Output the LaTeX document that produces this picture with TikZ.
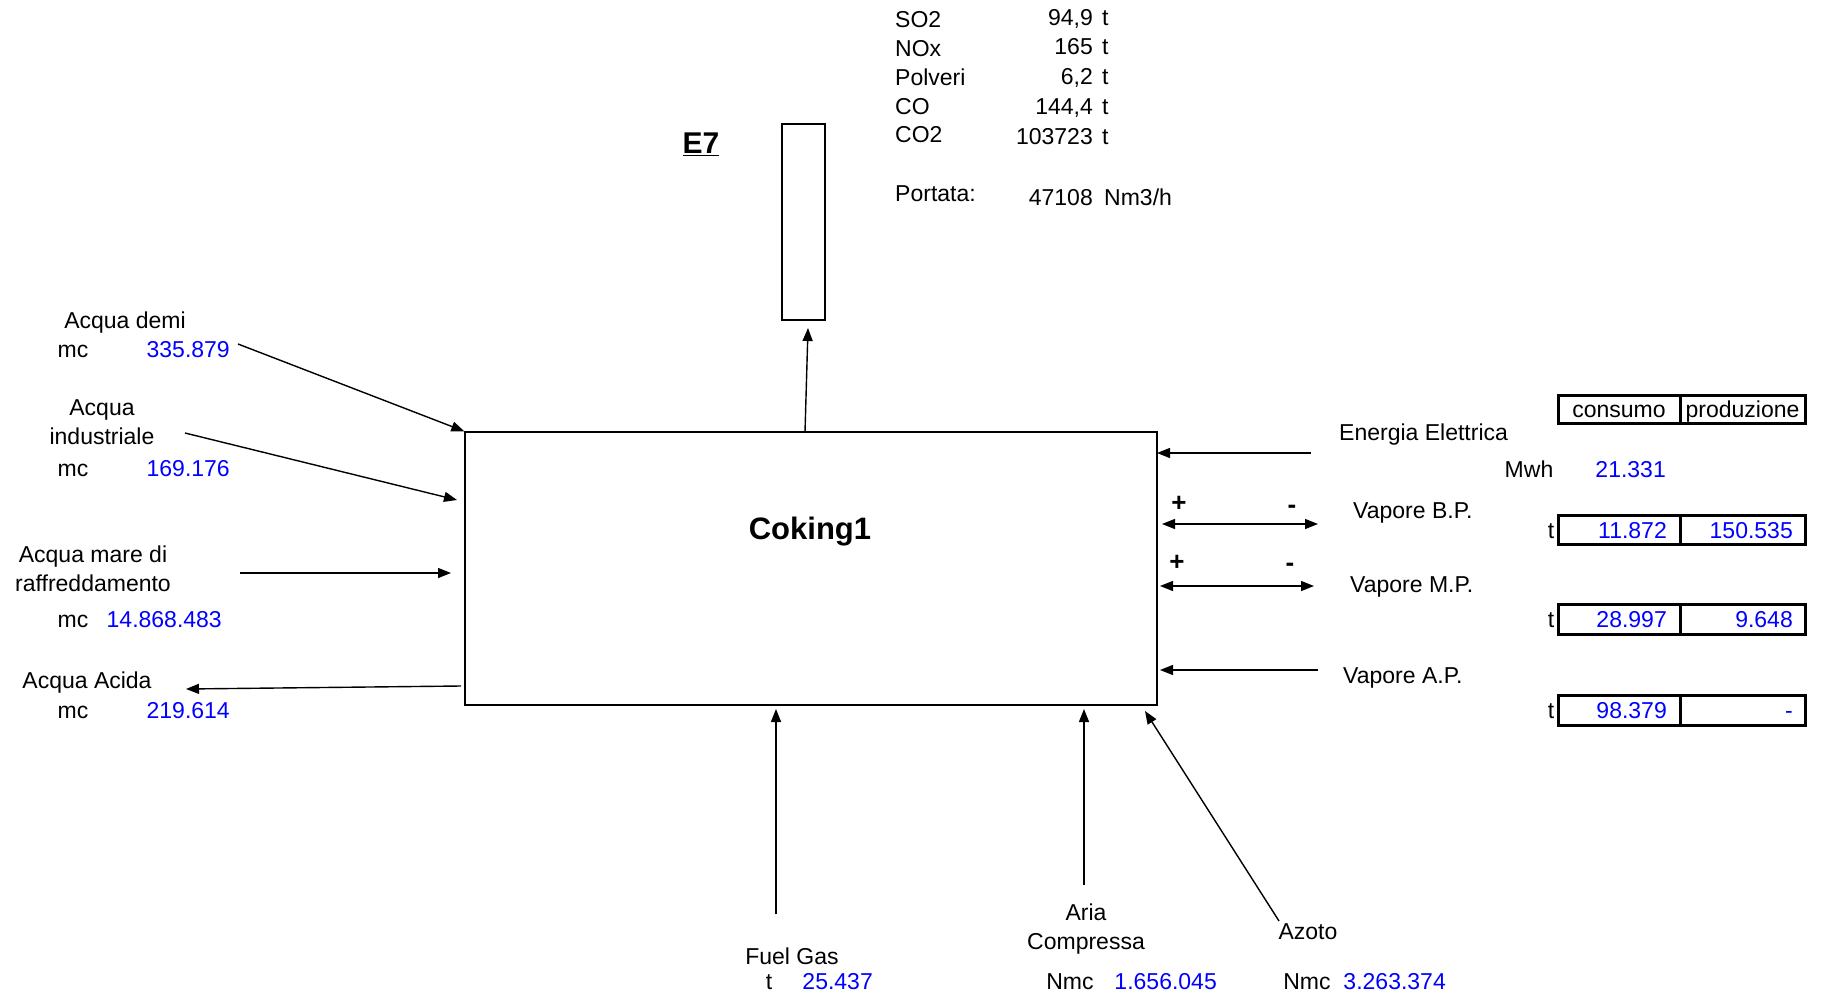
\documentclass[tikz,border=0pt]{standalone}
\usepackage{fontspec}
\setmainfont{Liberation Sans}
\usetikzlibrary{arrows.meta}
\definecolor{valblue}{RGB}{0,0,255}
\begin{document}
\begin{tikzpicture}[x=1pt,y=-1pt,
  txt/.style={font=\fontsize{23}{27}\selectfont, inner sep=0pt, anchor=base},
  txtw/.style={txt, anchor=base west},
  val/.style={txt, anchor=base east, text=valblue},
  sign/.style={txt, font=\fontsize{26}{30}\selectfont\bfseries},
  arr/.style={line width=1.4pt, -{Triangle[length=13pt,width=10pt]}},
  darr/.style={line width=1.4pt, {Triangle[length=13pt,width=10pt]}-{Triangle[length=13pt,width=10pt]}},
  boxnode/.style={draw, line width=1.4pt, inner sep=0pt},
  cell/.style={draw, line width=3pt, inner sep=0pt}]
\useasboundingbox (0,0) rectangle (1822,995);
% main unit
\node[boxnode, minimum width=692pt, minimum height=273pt] (coking) at (811,568.5) {};
\node[font=\fontsize{31}{36}\selectfont\bfseries, inner sep=0pt] (cokingtxt) at (810,532) {Coking1};
% stack
\node[boxnode, minimum width=43pt, minimum height=196pt] (stack) at (803.5,222) {};
\node[font=\fontsize{30}{34}\selectfont\bfseries, inner sep=0pt, anchor=base] (e7) at (701,154) {\underline{E7}};
\coordinate (stackout) at (805,432);
\coordinate (stackin) at (808,328);
\draw[arr] (stackout) -- (stackin);
% emissions
\node[txtw] (so2) at (895,28) {SO2};
\node[val, text=black] (so2v) at (1093,26) {94,9};
\node[txtw] (so2t) at (1102,26) {t};
\node[txtw] (nox) at (895,57) {NOx};
\node[val, text=black] (noxv) at (1093,55) {165};
\node[txtw] (noxt) at (1102,55) {t};
\node[txtw] (polv) at (895,86) {Polveri};
\node[val, text=black] (polvv) at (1093,85) {6,2};
\node[txtw] (polvt) at (1102,85) {t};
\node[txtw] (co) at (895,115) {CO};
\node[val, text=black] (cov) at (1093,115) {144,4};
\node[txtw] (cot) at (1102,115) {t};
\node[txtw] (co2) at (895,143) {CO2};
\node[val, text=black] (co2v) at (1093,145) {103723};
\node[txtw] (co2t) at (1102,145) {t};
\node[txtw] (port) at (895,201) {Portata:};
\node[val, text=black] (portv) at (1093,206) {47108};
\node[txtw] (portu) at (1104,206) {Nm3/h};
% left side
\node[txt] (demi) at (125,328) {Acqua demi};
\node[txt] (demimc) at (73,357) {mc};
\node[val] (demiv) at (230,357) {335.879};
\coordinate (demiS) at (238,344);
\draw[arr] (demiS) -- (coking.north west);
\node[txt] (ind1) at (102,415) {Acqua};
\node[txt] (ind2) at (102,444) {industriale};
\node[txt] (indmc) at (73,476) {mc};
\node[val] (indv) at (230,476) {169.176};
\coordinate (indS) at (185,433);
\coordinate (indE) at (457,500);
\draw[arr] (indS) -- (indE);
\node[txt] (mare1) at (93,562) {Acqua mare di};
\node[txt] (mare2) at (93,591) {raffreddamento};
\node[txt] (maremc) at (73,627) {mc};
\node[val] (marev) at (222,627) {14.868.483};
\coordinate (mareS) at (240,573);
\coordinate (mareE) at (451,573);
\draw[arr] (mareS) -- (mareE);
\node[txt] (acida) at (87,688) {Acqua Acida};
\node[txt] (acidamc) at (73,718) {mc};
\node[val] (acidav) at (230,718) {219.614};
\coordinate (acidaS) at (461,686);
\coordinate (acidaE) at (186,689);
\draw[arr] (acidaS) -- (acidaE);
% bottom
\node[txt] (fuel) at (792,964) {Fuel Gas};
\node[txt] (fuelt) at (769,989) {t};
\node[val] (fuelv) at (873,989) {25.437};
\coordinate (fuelS) at (776,914);
\coordinate (fuelE) at (776,709);
\draw[arr] (fuelS) -- (fuelE);
\node[txt] (aria1) at (1086,920) {Aria};
\node[txt] (aria2) at (1086,949) {Compressa};
\node[txt] (ariamc) at (1070,989) {Nmc};
\node[val] (ariav) at (1217,989) {1.656.045};
\coordinate (ariaS) at (1084,885);
\coordinate (ariaE) at (1084,709);
\draw[arr] (ariaS) -- (ariaE);
\node[txt] (azoto) at (1308,939) {Azoto};
\node[txt] (azotomc) at (1307,989) {Nmc};
\node[val] (azotov) at (1446,989) {3.263.374};
\coordinate (azotoS) at (1279,921);
\coordinate (azotoE) at (1145,711);
\draw[arr] (azotoS) -- (azotoE);
% right side
\node[txtw] (ee) at (1339,440) {Energia Elettrica};
\coordinate (eeS) at (1311,453);
\coordinate (eeE) at (1157,453);
\draw[arr] (eeS) -- (eeE);
\node[txt] (mwh) at (1529,477) {Mwh};
\node[val] (eev) at (1666,477) {21.331};
% table header
\node[cell, minimum width=122pt, minimum height=28pt] (hc) at (1619,409) {};
\node[cell, minimum width=125pt, minimum height=28pt] (hp) at (1742.5,409) {};
\node[txt] (hctxt) at (1619,417) {consumo};
\node[txt] (hptxt) at (1742.5,417) {produzione};
% B.P.
\node[sign] (bpplus) at (1179,511) {+};
\node[sign] (bpminus) at (1292,513) {-};
\coordinate (bpL) at (1162,524);
\coordinate (bpR) at (1318,524);
\draw[darr] (bpL) -- (bpR);
\node[txtw] (bp) at (1353,518) {Vapore B.P.};
\node[txt] (bpt) at (1551,538) {t};
\node[cell, minimum width=122pt, minimum height=29pt] (bpc) at (1619,529.5) {};
\node[cell, minimum width=125pt, minimum height=29pt] (bpp) at (1742.5,529.5) {};
\node[val] (bpcv) at (1667,538) {11.872};
\node[val] (bppv) at (1793,538) {150.535};
% M.P.
\node[sign] (mpplus) at (1177,570) {+};
\node[sign] (mpminus) at (1290,571) {-};
\coordinate (mpL) at (1160,586);
\coordinate (mpR) at (1314,586);
\draw[darr] (mpL) -- (mpR);
\node[txtw] (mp) at (1350,592) {Vapore M.P.};
\node[txt] (mpt) at (1551,627) {t};
\node[cell, minimum width=122pt, minimum height=30pt] (mpc) at (1619,619) {};
\node[cell, minimum width=125pt, minimum height=30pt] (mpp) at (1742.5,619) {};
\node[val] (mpcv) at (1667,627) {28.997};
\node[val] (mppv) at (1793,627) {9.648};
% A.P.
\coordinate (apS) at (1318,670);
\coordinate (apE) at (1160,670);
\draw[arr] (apS) -- (apE);
\node[txtw] (ap) at (1343,683) {Vapore A.P.};
\node[txt] (apt) at (1551,718) {t};
\node[cell, minimum width=122pt, minimum height=30pt] (apc) at (1619,710) {};
\node[cell, minimum width=125pt, minimum height=30pt] (app) at (1742.5,710) {};
\node[val] (apcv) at (1667,718) {98.379};
\node[val] (appv) at (1793,718) {-};
\end{tikzpicture}
\end{document}
